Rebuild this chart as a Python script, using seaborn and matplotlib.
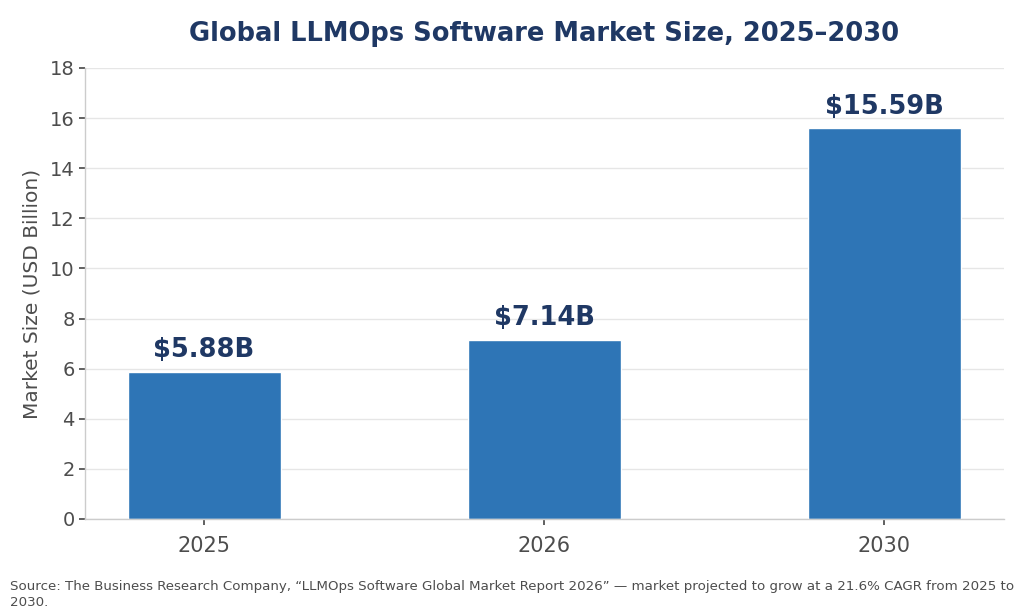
import numpy as np
import pandas as pd
import seaborn as sns
import matplotlib.pyplot as plt

years = ["2025", "2026", "2030"]
market_size = [5.88, 7.14, 15.59]
value_labels = ["$5.88B", "$7.14B", "$15.59B"]

BAR_COLOR = "#2E75B6"
DARK_BLUE = "#1F3864"
GREY = "#4D4D4D"

sns.set_theme(style="whitegrid")
plt.rcParams['font.family'] = ['DejaVu Sans']

df = pd.DataFrame({"Year": years, "Size": market_size})

fig = plt.figure(figsize=(10.24, 6.12), dpi=100)
ax = fig.add_axes([0.083, 0.152, 0.897, 0.737])
sns.barplot(data=df, x="Year", y="Size", color=BAR_COLOR, width=0.45, saturation=1, ax=ax)

# value labels above bars
for p, lab in zip(ax.patches, value_labels):
    ax.text(p.get_x() + p.get_width() / 2, p.get_height() + 0.35, lab,
            ha="center", va="bottom", fontsize=18.5, fontweight="bold", color=DARK_BLUE)

ax.set_xlim(-0.35, 2.35)
ax.set_ylim(0, 18)
ax.set_yticks(np.arange(0, 19, 2))
ax.set_xlabel("")
ax.set_ylabel("Market Size (USD Billion)", fontsize=14.5, color=GREY, labelpad=6)
ax.tick_params(axis="x", labelsize=15, colors=GREY, length=4, bottom=True, pad=8)
ax.tick_params(axis="y", labelsize=14, colors=GREY, length=4, left=True)
ax.grid(axis="x", visible=False)
ax.grid(axis="y", color="#E6E6E6", linewidth=1)
ax.set_axisbelow(True)
for s in ["top", "right"]:
    ax.spines[s].set_visible(False)
for s in ["left", "bottom"]:
    ax.spines[s].set_color("#CCCCCC")
    ax.spines[s].set_linewidth(1)

fig.text(0.531, 0.944, "Global LLMOps Software Market Size, 2025\u20132030",
         ha="center", va="center", fontsize=18.5, fontweight="bold", color=DARK_BLUE)
fig.text(0.01, 0.005,
         "Source: The Business Research Company, \u201cLLMOps Software Global Market Report 2026\u201d \u2014 market projected to grow at a 21.6% CAGR from 2025 to\n2030.",
         ha="left", va="bottom", fontsize=9.6, color=GREY, linespacing=1.3)

fig.savefig("out.png", dpi=100)
